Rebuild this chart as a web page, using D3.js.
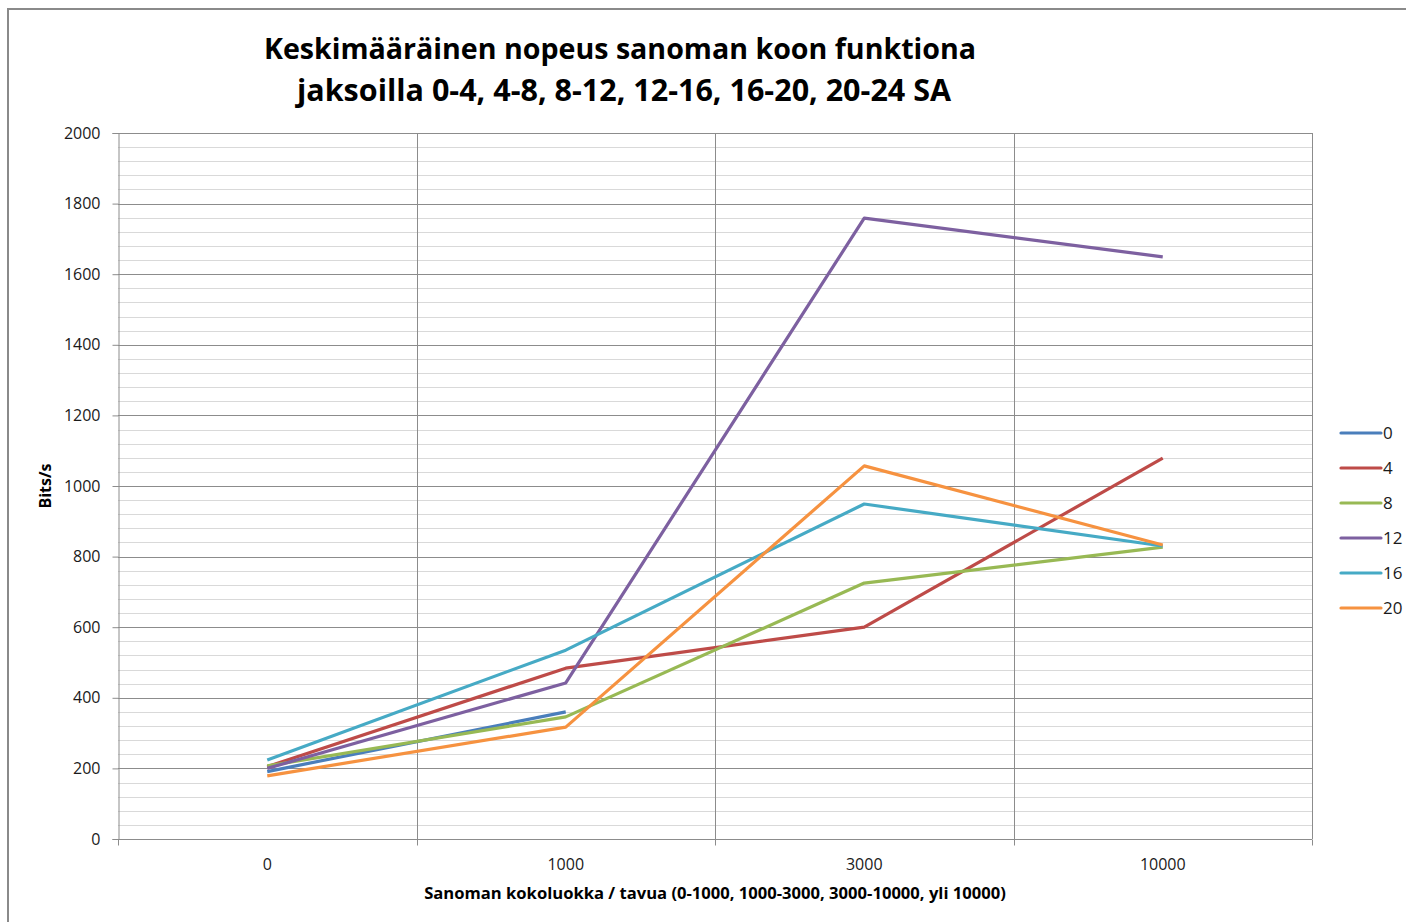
<!DOCTYPE html>
<html>
<head>
<meta charset="utf-8">
<script src="https://cdn.jsdelivr.net/npm/d3@7"></script>
<style>
  body { margin: 0; background: #fff; }
  svg { display: block; font-family: "Open Sans", "DejaVu Sans", sans-serif; }
</style>
</head>
<body>
<div id="chart"></div>
<script type="text/javascript">
// categories on the x axis
var categories = ["0", "1000", "3000", "10000"];

// one array per series (legend label = start hour)
var seriesNames = ["0", "4", "8", "12", "16", "20"];
var s0  = [191, 360];
var s4  = [205, 484, 600, 1079];
var s8  = [207, 346, 725, 827];
var s12 = [200, 442, 1759, 1649];
var s16 = [224, 535, 949, 830];
var s20 = [179, 317, 1057, 833];
var colors = ["#4A7EBB", "#BE4B48", "#98B954", "#7D60A0", "#46AAC5", "#F69240"];

var yTicks = [0, 200, 400, 600, 800, 1000, 1200, 1400, 1600, 1800, 2000];

var W = 1406, H = 922;
var margin = {top: 133, left: 118, right: W - 1312, bottom: H - 839};
var width = W - margin.left - margin.right,
    height = H - margin.top - margin.bottom;

var svg = d3.select("#chart").append("svg")
    .attr("width", W)
    .attr("height", H);

// chart frame
svg.append("rect")
    .attr("x", 8).attr("y", 9)
    .attr("width", W + 20).attr("height", H + 20)
    .attr("fill", "#fff")
    .attr("stroke", "#8a8a8a")
    .attr("stroke-width", 2);

// title
var title = svg.append("text")
    .attr("text-anchor", "middle")
    .attr("font-weight", "bold")
    .attr("fill", "#000");
title.append("tspan").attr("x", 620).attr("y", 59).attr("font-size", 28.6)
    .text("Keskimääräinen nopeus sanoman koon funktiona");
title.append("tspan").attr("x", 624).attr("y", 101).attr("font-size", 30.5)
    .text("jaksoilla 0-4, 4-8, 8-12, 12-16, 16-20, 20-24 SA");

var g = svg.append("g")
    .attr("transform", "translate(" + margin.left + "," + margin.top + ")");

// scales
var x = d3.scaleBand().domain(categories).range([0, width]);
var y = d3.scaleLinear().domain([0, 2000]).range([height, 0]);

// minor gridlines every 40
g.append("g").selectAll("line")
    .data(d3.range(40, 2000, 40).filter(function(v) { return v % 200 !== 0; }))
  .enter().append("line")
    .attr("x1", 0).attr("x2", width)
    .attr("y1", function(d) { return Math.round(y(d)) + 0.5; })
    .attr("y2", function(d) { return Math.round(y(d)) + 0.5; })
    .attr("stroke", "#d9d9d9").attr("stroke-width", 1);

// major gridlines
g.append("g").selectAll("line")
    .data(yTicks.slice(1))
  .enter().append("line")
    .attr("x1", 0).attr("x2", width)
    .attr("y1", function(d) { return Math.round(y(d)) + 0.5; })
    .attr("y2", function(d) { return Math.round(y(d)) + 0.5; })
    .attr("stroke", "#8c8c8c").attr("stroke-width", 1);

// vertical gridlines at band boundaries
var bounds = categories.map(function(c) { return x(c); }).concat([width]);
g.append("g").selectAll("line")
    .data(bounds.slice(1))
  .enter().append("line")
    .attr("x1", function(d) { return Math.round(d) + 0.5; })
    .attr("x2", function(d) { return Math.round(d) + 0.5; })
    .attr("y1", 0).attr("y2", height)
    .attr("stroke", "#8c8c8c").attr("stroke-width", 1);

// y axis
var yAxis = g.append("g")
    .attr("transform", "translate(0.5,0)")
    .call(d3.axisLeft(y).tickValues(yTicks).tickFormat(d3.format("d")).tickSize(6).tickPadding(12));
yAxis.select(".domain").attr("stroke", "#8c8c8c");
yAxis.selectAll(".tick line").attr("stroke", "#8c8c8c");
yAxis.selectAll(".tick text").attr("font-size", 16).attr("fill", "#1a1a1a")
    .attr("font-family", "'Open Sans', sans-serif");

// x axis: ticks at band boundaries, labels at centers
var xAxisG = g.append("g").attr("transform", "translate(0," + (height + 0.5) + ")");
xAxisG.append("line").attr("x1", 0).attr("x2", width).attr("stroke", "#8c8c8c");
xAxisG.selectAll(".bt").data(bounds).enter().append("line")
    .attr("x1", function(d) { return Math.round(d) + 0.5; })
    .attr("x2", function(d) { return Math.round(d) + 0.5; })
    .attr("y1", 0).attr("y2", 6)
    .attr("stroke", "#8c8c8c");
xAxisG.selectAll("text").data(categories).enter().append("text")
    .attr("x", function(d) { return x(d) + x.bandwidth() / 2; })
    .attr("y", 30)
    .attr("text-anchor", "middle")
    .attr("font-size", 16)
    .attr("fill", "#1a1a1a")
    .text(function(d) { return d; });

// axis titles
svg.append("text")
    .attr("x", 715).attr("y", 899)
    .attr("text-anchor", "middle")
    .attr("font-size", 16.6).attr("font-weight", "bold")
    .text("Sanoman kokoluokka / tavua (0-1000, 1000-3000, 3000-10000, yli 10000)");
svg.append("text")
    .attr("transform", "translate(51,486) rotate(-90)")
    .attr("text-anchor", "middle")
    .attr("font-size", 16).attr("font-weight", "bold")
    .text("Bits/s");

// lines
var allSeries = [s0, s4, s8, s12, s16, s20];
var line = d3.line()
    .x(function(d, i) { return x(categories[i]) + x.bandwidth() / 2; })
    .y(function(d) { return y(d); });

g.selectAll(".series").data(allSeries).enter().append("path")
    .attr("class", "series")
    .attr("d", line)
    .attr("fill", "none")
    .attr("stroke", function(d, i) { return colors[i]; })
    .attr("stroke-width", 3.2)
    .attr("stroke-linejoin", "round");

// legend
var legend = svg.append("g").selectAll("g").data(seriesNames).enter().append("g")
    .attr("transform", function(d, i) { return "translate(1341," + (433 + i * 35) + ")"; });
legend.append("line")
    .attr("x1", 0).attr("x2", 40)
    .attr("stroke", function(d, i) { return colors[i]; })
    .attr("stroke-width", 3.2).attr("stroke-linecap", "round");
legend.append("text")
    .attr("x", 42).attr("y", 6)
    .attr("font-size", 17).attr("fill", "#1a1a1a")
    .text(function(d) { return d; });
</script>
</body>
</html>
